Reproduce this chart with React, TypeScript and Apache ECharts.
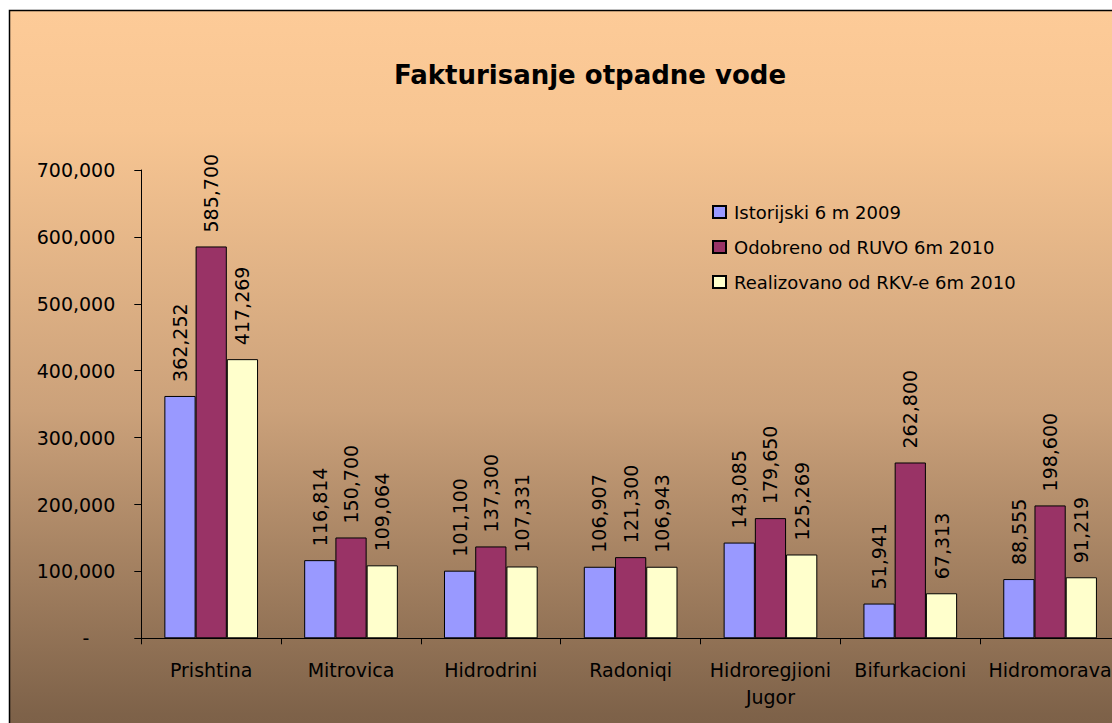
import React, { useEffect, useRef } from "react";
import * as echarts from "echarts";

const titleText = "Fakturisanje otpadne vode";
const categories = [
  "Prishtina",
  "Mitrovica",
  "Hidrodrini",
  "Radoniqi",
  "Hidroregjioni\nJugor",
  "Bifurkacioni",
  "Hidromorava",
];
const seriesNames = [
  "Istorijski 6 m 2009",
  "Odobreno od RUVO 6m 2010",
  "Realizovano od RKV-e 6m 2010",
];
const istorijski = [362252, 116814, 101100, 106907, 143085, 51941, 88555];
const odobreno = [585700, 150700, 137300, 121300, 179650, 262800, 198600];
const realizovano = [417269, 109064, 107331, 106943, 125269, 67313, 91219];
const seriesColors = ["#9999FF", "#993366", "#FFFFCC"];
const yMax = 700000;
const yInterval = 100000;

const FONT = "DejaVu Sans";
const fmt = (v: number) => v.toLocaleString("en-US");

export default function App() {
  const ref = useRef<HTMLDivElement>(null);
  useEffect(() => {
    document.body.style.overflow = "hidden";
    document.documentElement.style.overflow = "hidden";
    const chart = echarts.init(ref.current!, null, { renderer: "svg" });
    const values = [istorijski, odobreno, realizovano];
    chart.setOption({
      animation: false,
      textStyle: { fontFamily: FONT },
      graphic: [
        {
          type: "rect",
          z: -10,
          silent: true,
          shape: { x: 9.5, y: 10.5, width: 1200, height: 800 },
          style: {
            fill: new echarts.graphic.LinearGradient(0, 0, 0, 1, [
              { offset: 0, color: "#FDCB98" },
              { offset: 0.15, color: "#F7C592" },
              { offset: 0.5, color: "#CBA17A" },
              { offset: 0.88, color: "#7E6249" },
              { offset: 1, color: "#735741" },
            ]),
            stroke: "#000",
            lineWidth: 1.5,
          },
        },
        {
          type: "text",
          x: 590,
          y: 75,
          style: {
            text: titleText,
            fontFamily: FONT,
            fontSize: 26,
            fontWeight: "bold",
            fill: "#000",
            align: "center",
            verticalAlign: "middle",
          },
        },
      ],
      legend: {
        orient: "vertical",
        left: 707,
        top: 198,
        itemWidth: 13,
        itemHeight: 12,
        itemGap: 17,
        icon: "rect",
        data: seriesNames,
        textStyle: {
          fontFamily: FONT,
          fontSize: 18,
          color: "#000",
          padding: [0, 0, 0, 3],
        },
      },
      grid: { left: 141.3, right: 20, top: 170, bottom: 101.7 },
      xAxis: {
        type: "category",
        data: categories,
        axisLine: { lineStyle: { color: "#000", width: 1 } },
        axisTick: { show: true, length: 6, lineStyle: { color: "#000" } },
        axisLabel: {
          color: "#000",
          fontFamily: FONT,
          fontSize: 19,
          lineHeight: 27,
          margin: 18,
          interval: 0,
        },
      },
      yAxis: {
        type: "value",
        min: 0,
        max: yMax,
        interval: yInterval,
        splitLine: { show: false },
        axisLine: { show: true, lineStyle: { color: "#000", width: 1 } },
        axisTick: { show: true, length: 7, lineStyle: { color: "#000" } },
        axisLabel: {
          color: "#000",
          fontFamily: FONT,
          fontSize: 19,
          margin: 26,
          formatter: (v: number) => (v === 0 ? "{dash|-}" : fmt(v)),
          rich: {
            dash: {
              fontFamily: FONT,
              fontSize: 19,
              color: "#000",
              padding: [0, 26, 0, 0],
            },
          },
        },
      },
      series: seriesNames.map((name, i) => ({
        name,
        type: "bar",
        data: values[i],
        barGap: "0%",
        barCategoryGap: "33%",
        itemStyle: {
          color: seriesColors[i],
          borderColor: "#000",
          borderWidth: 1,
        },
        label: {
          show: true,
          position: "top",
          rotate: 90,
          align: "left",
          verticalAlign: "middle",
          distance: 14,
          color: "#000",
          fontFamily: FONT,
          fontSize: 19,
          formatter: (p: any) => fmt(p.value),
        },
      })),
    });
    return () => chart.dispose();
  }, []);
  return (
    <div
      ref={ref}
      style={{ position: "fixed", left: 0, top: 0, width: 1140, height: 740, background: "#fff" }}
    />
  );
}
